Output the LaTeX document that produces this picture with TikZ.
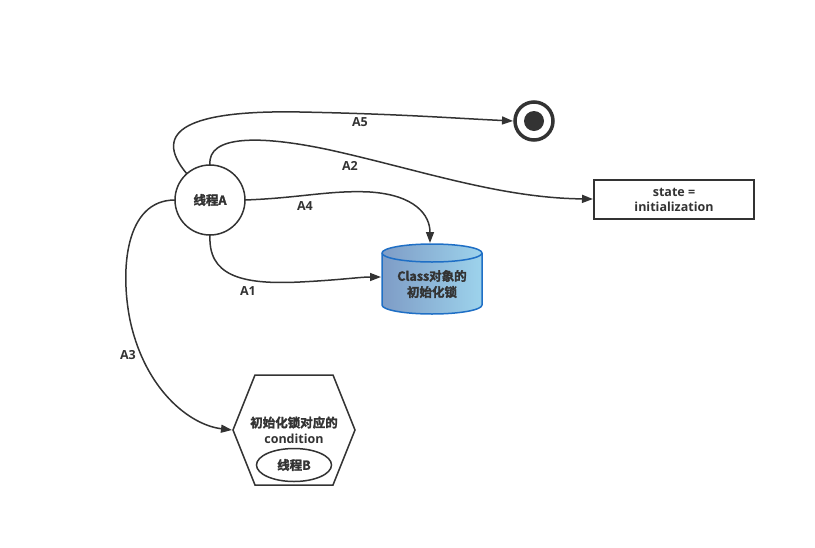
\documentclass[tikz,border=0pt]{standalone}
\usepackage{fontspec}
\setmainfont{Open Sans}
\newfontfamily\cjkbase{Noto Sans CJK SC}[BoldFont={Noto Sans CJK SC Bold}]
\newcommand\cjk[1]{{\cjkbase\special{pdf:literal direct 2 Tr 0.25 w}#1\special{pdf:literal direct 0 Tr}}}
\usetikzlibrary{arrows.meta,shapes.geometric}
\definecolor{ink}{HTML}{333333}
\definecolor{cylL}{HTML}{7E9CC6}
\definecolor{cylR}{HTML}{9DD3EC}
\definecolor{cylB}{HTML}{1F6FC5}
\tikzset{
  every node/.style={text=ink,font=\bfseries\fontsize{12.5}{16}\selectfont},
  conn/.style={draw=ink,line width=1.5pt,-{Triangle[length=11pt,width=8pt]}},
  lbl/.style={inner sep=0pt},
  stbox/.style={draw=ink,line width=1.5pt,minimum width=160pt,minimum height=39pt,align=center,inner sep=0pt},
}
\begin{document}
\begin{tikzpicture}[x=1pt,y=-1pt]
\useasboundingbox (0,0) rectangle (815,547);
% thread A
\node[circle,draw=ink,line width=1.5pt,minimum size=70pt,inner sep=0pt] (ta) at (210,200) {\cjk{线程A}};
% end state
\node[circle,draw=ink,line width=3.5pt,minimum size=38pt,inner sep=0pt] (end) at (534,121) {};
\node[circle,fill=ink,minimum size=20pt,inner sep=0pt] (endin) at (534,121) {};
% state box
\node[stbox] (st) at (674,199.5) {state =\\[-1pt]initialization};
% cylinder
\shade[left color=cylL,right color=cylR,draw=cylB,line width=1.5pt]
  (382,253) -- (382,305) arc[start angle=180,end angle=360,x radius=50pt,y radius=9pt]
  -- (482,253) arc[start angle=0,end angle=180,x radius=50pt,y radius=9pt] -- cycle;
\draw[cylB,line width=1.5pt] (382,253) arc[start angle=180,end angle=360,x radius=50pt,y radius=9pt];
\node[minimum width=100pt,minimum height=70pt,align=center,inner sep=0pt] (cyl) at (432,284) {\cjk{Class对象的}\\\cjk{初始化锁}};
\coordinate (cyltop) at (430,243);
\coordinate (cylleft) at (381,277);
% hexagon
\coordinate (hex) at (294,430);
\draw[ink,line width=1.5pt] (233,430) -- (255,375) -- (333,375) -- (355,430) -- (333,485) -- (255,485) -- cycle;
\node[align=center,inner sep=0pt] (cond) at (294,430) {\cjk{初始化锁对应的}\\condition};
\node[ellipse,draw=ink,line width=1.5pt,minimum width=75pt,minimum height=33pt,inner sep=0pt] (tb) at (294,465) {\cjk{线程B}};
\coordinate (hexleft) at (232,430);
% connectors
\coordinate (a5s) at (187,174);
\coordinate (a5e) at (513,121);
\path[conn] (a5s) .. controls (150,130) and (190,110) .. (300,112) .. controls (400,114) and (450,118) .. (a5e);
\coordinate (a2s) at (210,165);
\coordinate (a2e) at (593,199);
\path[conn] (a2s) .. controls (207,135) and (260,135) .. (330,150) .. controls (420,170) and (500,198) .. (a2e);
\coordinate (a4s) at (245,200);
\path[conn] (a4s) .. controls (300,198) and (330,190) .. (370,192) .. controls (415,195) and (430,215) .. (cyltop);
\coordinate (a1s) at (210,235);
\path[conn] (a1s) .. controls (208,275) and (240,285) .. (300,282) .. controls (340,280) and (360,277) .. (cylleft);
\coordinate (a3s) at (175,200);
\path[conn] (a3s) .. controls (125,200) and (120,270) .. (130,320) .. controls (145,390) and (190,425) .. (hexleft);
% labels
\node[lbl] (l5) at (360,122) {A5};
\node[lbl] (l2) at (350,166) {A2};
\node[lbl] (l4) at (305,206) {A4};
\node[lbl] (l1) at (248,291) {A1};
\node[lbl] (l3) at (128,355) {A3};
\end{tikzpicture}
\end{document}
